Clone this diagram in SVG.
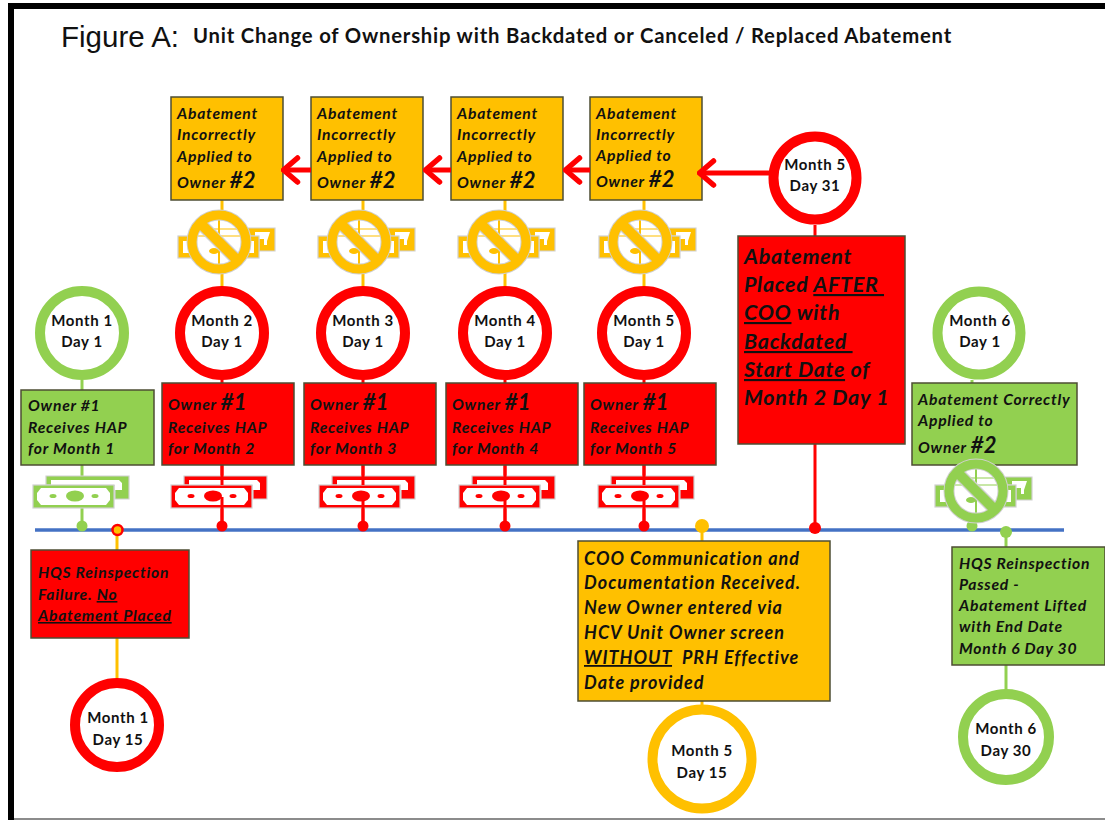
<svg xmlns="http://www.w3.org/2000/svg" width="1105" height="820" viewBox="0 0 1105 820">
<style>
text{font-family:Lato,"Open Sans",sans-serif;fill:#111}
.b{stroke:#4d4d33;stroke-width:1.5}
.y{fill:#ffc000}.r{fill:#ff0000}.g{fill:#92d050}
.t{font-size:15.7px;font-weight:700;font-style:italic;letter-spacing:.75px}
.big{font-size:22px;font-weight:700;font-style:italic;letter-spacing:.3px}
.l{font-size:18px;font-weight:700;font-style:italic;letter-spacing:1px}
.xl{font-size:21.5px;font-weight:700;font-style:italic;letter-spacing:.7px}
.c{font-size:15px;font-weight:700;text-anchor:middle;letter-spacing:.6px}
.ring{fill:#fff;stroke-width:10}
.cy{color:#ffc000}.cr{color:#ff0000}.cg{color:#92d050}
.ln{fill:none;stroke-width:3}
</style>
<defs>
<g id="bill">
<path d="M-29-21H54V2H40V-12H-29Z" fill="currentColor" stroke="#d0d0d0" stroke-width="1.2"/>
<path d="M-24-17H44L47-14V-7H40V-12H-24Z" fill="#fff"/>
<rect x="-42" y="-12" width="81" height="23" fill="currentColor" stroke="#d0d0d0" stroke-width="1.2"/>
<path d="M-34-9H31L35-4V3L31 8H-34L-38 3V-4Z" fill="#fff"/>
<ellipse cx="0" cy="-1" rx="9" ry="5.500" fill="currentColor"/>
<ellipse cx="-22" cy="-1" rx="3.500" ry="2" fill="currentColor"/>
<ellipse cx="20" cy="-1" rx="3.500" ry="2" fill="currentColor"/>
</g>
<g id="nobill">
<path d="M-13-14H56V9H40V-6H-13Z" fill="currentColor" stroke="#d0d0d0" stroke-width="1.200"/>
<path d="M36-10H51L48-1V3H45V-3H36Z" fill="#fff"/>
<rect x="-41" y="-6" width="81" height="22" fill="currentColor" stroke="#d0d0d0" stroke-width="1.200"/>
<rect x="-36" y="-1" width="71" height="12" fill="#fff"/>
<circle cx="0" cy="0" r="27" fill="#fff"/>
<path d="M-17-13H19M-22-6H23" fill="none" stroke="currentColor" stroke-width="1.200"/>
<ellipse cx="-5" cy="9" rx="5" ry="3" fill="currentColor"/>
<path d="M0-28V28" fill="none" stroke="currentColor" stroke-width="2"/>
<path d="M-19-19L19 19" fill="none" stroke="#d0d0d0" stroke-width="12.500"/>
<circle cx="0" cy="0" r="27" fill="none" stroke="#d0d0d0" stroke-width="11"/>
<circle cx="0" cy="0" r="27" fill="none" stroke="currentColor" stroke-width="9"/>
<path d="M-21-21L21 21" fill="none" stroke="currentColor" stroke-width="10"/>
</g>
<marker id="head" viewBox="0 0 20 30" refX="16.5" refY="15" markerWidth="20" markerHeight="30" markerUnits="userSpaceOnUse" orient="auto"><path d="M3 3L17 15 3 27" fill="none" stroke="#ff0000" stroke-width="5.500" stroke-linecap="round" stroke-linejoin="round"/></marker>
</defs>
<rect width="1105" height="820" fill="#fff"/>
<path id="frame" d="M1105 6H11V820" fill="none" stroke="#000" stroke-width="6"/>
<path d="M14 819H1105" stroke="#666" stroke-width="1.500"/>
<text x="61" y="47" style="font-family:'Liberation Sans',sans-serif;font-size:29.500px">Figure A:</text>
<text x="193" y="43" style="font-size:20.300px;font-weight:700;letter-spacing:.79px">Unit Change of Ownership with Backdated or Canceled / Replaced Abatement</text>

<g id="connectors">
<path class="ln" stroke="#4472c4" d="M35 530H1064" style="stroke-width:3.500px"/>
<g class="ln" stroke="#92d050"><path d="M82 380V526"/><path d="M972 380V526"/><path d="M1006 532V700"/></g>
<g class="ln" stroke="#ff0000"><path d="M815 225V528"/><path d="M222 370V526"/><path d="M363 370V526"/><path d="M505 370V526"/><path d="M644 370V526"/></g>
<g class="ln" stroke="#ffc000"><path d="M222 200V295"/><path d="M363 200V295"/><path d="M505 200V295"/><path d="M644 200V295"/><path d="M117 530V690"/><path d="M702 526V715"/></g>
<circle cx="82" cy="526" r="5.500" class="g"/><circle cx="972" cy="526" r="5.500" class="g"/><circle cx="1006" cy="532" r="6" class="g"/>
<circle cx="222" cy="526" r="5.500" class="r"/><circle cx="363" cy="526" r="5.500" class="r"/><circle cx="505" cy="526" r="5.500" class="r"/><circle cx="644" cy="526" r="5.500" class="r"/><circle cx="815" cy="528" r="6" class="r"/>
<circle cx="117.500" cy="530" r="5" fill="#ffc000" stroke="#ff0000" stroke-width="2.500"/>
<circle cx="702" cy="526" r="7" class="y"/>
</g>

<g id="bills">
<use href="#bill" x="75" y="497" class="cg"/>
<use href="#bill" x="213" y="497" class="cr"/>
<use href="#bill" x="361" y="497" class="cr"/>
<use href="#bill" x="501" y="497" class="cr"/>
<use href="#bill" x="640" y="497" class="cr"/>
<use href="#nobill" x="219" y="242" class="cy"/>
<use href="#nobill" x="359" y="242" class="cy"/>
<use href="#nobill" x="499" y="242" class="cy"/>
<use href="#nobill" x="640" y="242" class="cy"/>
</g>
<g class="ln" stroke="#ff0000"><path d="M222 465V485M222 497V526"/><path d="M363 465V485M363 497V526"/><path d="M505 465V485M505 497V526"/><path d="M644 465V485M644 497V526"/></g>

<g id="a1"><rect class="b y" x="171" y="97" width="112" height="103"/><text class="t" x="177" y="119">Abatement</text><text class="t" x="177" y="140">Incorrectly</text><text class="t" x="177" y="162">Applied to</text><text class="t" x="177" y="188">Owner <tspan class="big">#2</tspan></text></g>
<g id="a2"><rect class="b y" x="311" y="97" width="112" height="103"/><text class="t" x="317" y="119">Abatement</text><text class="t" x="317" y="140">Incorrectly</text><text class="t" x="317" y="162">Applied to</text><text class="t" x="317" y="188">Owner <tspan class="big">#2</tspan></text></g>
<g id="a3"><rect class="b y" x="451" y="97" width="112" height="103"/><text class="t" x="457" y="119">Abatement</text><text class="t" x="457" y="140">Incorrectly</text><text class="t" x="457" y="162">Applied to</text><text class="t" x="457" y="188">Owner <tspan class="big">#2</tspan></text></g>
<g id="a4"><rect class="b y" x="590" y="97" width="112" height="103"/><text class="t" x="596" y="119">Abatement</text><text class="t" x="596" y="140">Incorrectly</text><text class="t" x="596" y="161">Applied to</text><text class="t" x="596" y="187">Owner <tspan class="big">#2</tspan></text></g>

<g id="m5d31"><circle class="ring" stroke="#ff0000" cx="815" cy="178" r="41.500"/><text class="c" x="815" y="170">Month 5</text><text class="c" x="815" y="191">Day 31</text></g>
<g id="m1d1"><circle class="ring" stroke="#92d050" cx="82" cy="333" r="42"/><text class="c" x="82" y="326">Month 1</text><text class="c" x="82" y="347">Day 1</text></g>
<g id="m2d1"><circle class="ring" stroke="#ff0000" cx="222" cy="333" r="42"/><text class="c" x="222" y="326">Month 2</text><text class="c" x="222" y="347">Day 1</text></g>
<g id="m3d1"><circle class="ring" stroke="#ff0000" cx="363" cy="333" r="42"/><text class="c" x="363" y="326">Month 3</text><text class="c" x="363" y="347">Day 1</text></g>
<g id="m4d1"><circle class="ring" stroke="#ff0000" cx="505" cy="333" r="42"/><text class="c" x="505" y="326">Month 4</text><text class="c" x="505" y="347">Day 1</text></g>
<g id="m5d1"><circle class="ring" stroke="#ff0000" cx="644" cy="333" r="42"/><text class="c" x="644" y="326">Month 5</text><text class="c" x="644" y="347">Day 1</text></g>
<g id="m6d1"><circle class="ring" stroke="#92d050" cx="979" cy="333" r="41.500"/><text class="c" x="980" y="326">Month 6</text><text class="c" x="980" y="347">Day 1</text></g>
<g id="m1d15"><circle class="ring" stroke="#ff0000" cx="117" cy="725" r="42"/><text class="c" x="118" y="723">Month 1</text><text class="c" x="118" y="745">Day 15</text></g>
<g id="m5d15"><circle class="ring" stroke="#ffc000" cx="702" cy="759" r="49.500"/><text class="c" x="702" y="756">Month 5</text><text class="c" x="702" y="778">Day 15</text></g>
<g id="m6d30"><circle class="ring" stroke="#92d050" cx="1006" cy="737" r="43"/><text class="c" x="1006" y="734">Month 6</text><text class="c" x="1006" y="756">Day 30</text></g>

<g id="o1"><rect class="b g" x="21" y="390" width="133" height="75"/><text class="t" x="28" y="411">Owner #1</text><text class="t" x="28" y="433">Receives HAP</text><text class="t" x="28" y="454">for Month 1</text></g>
<g id="o2"><rect class="b r" x="162" y="383" width="132" height="82"/><text class="t" x="168" y="410">Owner <tspan class="big">#1</tspan></text><text class="t" x="168" y="433">Receives HAP</text><text class="t" x="168" y="454">for Month 2</text></g>
<g id="o3"><rect class="b r" x="304" y="383" width="132" height="82"/><text class="t" x="310" y="410">Owner <tspan class="big">#1</tspan></text><text class="t" x="310" y="433">Receives HAP</text><text class="t" x="310" y="454">for Month 3</text></g>
<g id="o4"><rect class="b r" x="446" y="383" width="132" height="82"/><text class="t" x="452" y="410">Owner <tspan class="big">#1</tspan></text><text class="t" x="452" y="433">Receives HAP</text><text class="t" x="452" y="454">for Month 4</text></g>
<g id="o5"><rect class="b r" x="584" y="383" width="132" height="82"/><text class="t" x="590" y="410">Owner <tspan class="big">#1</tspan></text><text class="t" x="590" y="433">Receives HAP</text><text class="t" x="590" y="454">for Month 5</text></g>

<g id="correct"><rect class="b g" x="912" y="383" width="165" height="82"/><text class="t" x="918" y="405">Abatement Correctly</text><text class="t" x="918" y="426">Applied to</text><text class="t" x="918" y="453">Owner <tspan class="big">#2</tspan></text></g>
<use href="#nobill" x="976" y="491" class="cg"/>

<g id="placed"><rect class="b r" x="738" y="236" width="167" height="208"/>
<text class="xl" x="744" y="264">Abatement</text>
<text class="xl" x="744" y="292">Placed <tspan text-decoration="underline">AFTER&#160;</tspan></text>
<text class="xl" x="744" y="320"><tspan text-decoration="underline">COO</tspan> with</text>
<text class="xl" x="744" y="349" text-decoration="underline">Backdated&#160;</text>
<text class="xl" x="744" y="377"><tspan text-decoration="underline">Start Date</tspan> of</text>
<text class="xl" x="744" y="405">Month 2 Day 1</text></g>

<g id="fail"><rect class="b r" x="31" y="550" width="158" height="88"/><text class="t" x="38" y="578">HQS Reinspection</text><text class="t" x="38" y="600">Failure. <tspan text-decoration="underline">No</tspan></text><text class="t" x="38" y="621" text-decoration="underline">Abatement Placed</text></g>

<g id="coo"><rect class="b y" x="578" y="541" width="252" height="160"/>
<text class="l" x="584" y="565">COO Communication and</text>
<text class="l" x="584" y="589">Documentation Received.</text>
<text class="l" x="584" y="614">New Owner entered via</text>
<text class="l" x="584" y="639">HCV Unit Owner screen</text>
<text class="l" x="584" y="664"><tspan text-decoration="underline">WITHOUT</tspan>&#160; PRH Effective</text>
<text class="l" x="584" y="689">Date provided</text></g>

<g id="passed"><rect class="b g" x="952" y="547" width="153" height="118"/><text class="t" x="959" y="569">HQS Reinspection</text><text class="t" x="959" y="590">Passed -</text><text class="t" x="959" y="611">Abatement Lifted</text><text class="t" x="959" y="632">with End Date</text><text class="t" x="959" y="654">Month 6 Day 30</text></g>

<g id="arrows" fill="none" stroke="#ff0000" stroke-width="5">
<path d="M311 170H284" marker-end="url(#head)"/><path d="M451 170H426" marker-end="url(#head)"/><path d="M590 170H566" marker-end="url(#head)"/><path d="M772 173H700" marker-end="url(#head)"/>
</g>
</svg>
